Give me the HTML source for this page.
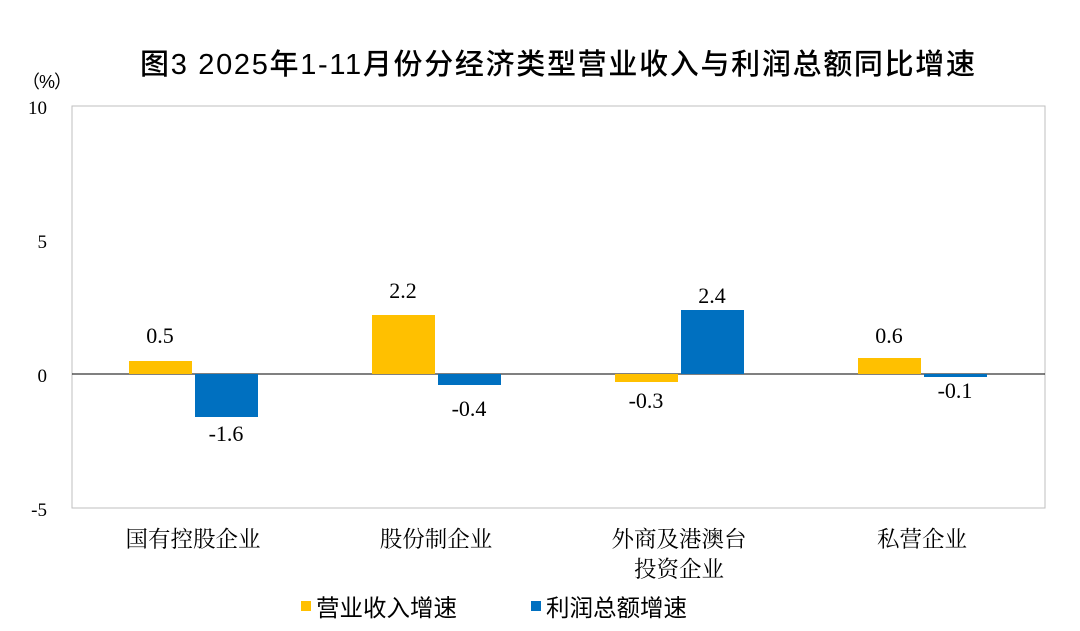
<!DOCTYPE html>
<html><head><meta charset="utf-8"><style>
body{margin:0;background:#fff;}
svg text{font-family:"Liberation Serif","Noto Serif CJK SC",serif;fill:#000;}
.cj{font-family:'Liberation Sans','Noto Sans CJK SC',sans-serif;}
</style></head><body>
<svg width="1080" height="626" viewBox="0 0 1080 626" xmlns="http://www.w3.org/2000/svg">
<rect width="1080" height="626" fill="#fff"/>
<text x="140" y="74" font-size="29" class="cj" style="font-weight:500" textLength="835" lengthAdjust="spacing">图3 2025年1-11月份分经济类型营业收入与利润总额同比增速</text>
<text x="22" y="88" font-size="18" class="cj" textLength="50" lengthAdjust="spacing">（%）</text>
<rect x="72" y="106" width="973" height="402" fill="none" stroke="#bfbfbf" stroke-width="1"/>
<line x1="72" y1="374" x2="1045" y2="374" stroke="#000" stroke-width="1"/>
<g font-size="19" text-anchor="end">
<text x="47" y="114">10</text>
<text x="47" y="248">5</text>
<text x="47" y="382">0</text>
<text x="47" y="516">-5</text>
</g>
<g fill="#FFC000">
<rect x="129" y="361" width="63" height="13"/>
<rect x="372" y="315" width="63" height="59"/>
<rect x="615" y="374" width="63" height="8"/>
<rect x="858" y="358" width="63" height="16"/>
</g>
<g fill="#0070C0">
<rect x="195" y="374" width="63" height="43"/>
<rect x="438" y="374" width="63" height="11"/>
<rect x="681" y="310" width="63" height="64"/>
<rect x="924" y="374" width="63" height="3"/>
</g>
<g font-size="22" text-anchor="middle">
<text x="160" y="343">0.5</text>
<text x="403" y="298">2.2</text>
<text x="646" y="408">-0.3</text>
<text x="889" y="343">0.6</text>
<text x="226" y="441">-1.6</text>
<text x="469" y="416">-0.4</text>
<text x="712" y="303">2.4</text>
<text x="955" y="398">-0.1</text>
</g>
<g font-size="22.5" text-anchor="middle" class="cj">
<text x="193" y="547">国有控股企业</text>
<text x="436" y="547">股份制企业</text>
<text x="679" y="547">外商及港澳台</text>
<text x="679" y="577">投资企业</text>
<text x="922" y="547">私营企业</text>
</g>
<rect x="301" y="601" width="10" height="10" fill="#FFC000"/>
<text x="316" y="616" font-size="23.5" class="cj">营业收入增速</text>
<rect x="531" y="601" width="10" height="10" fill="#0070C0"/>
<text x="546" y="616" font-size="23.5" class="cj">利润总额增速</text>
</svg>
</body></html>
